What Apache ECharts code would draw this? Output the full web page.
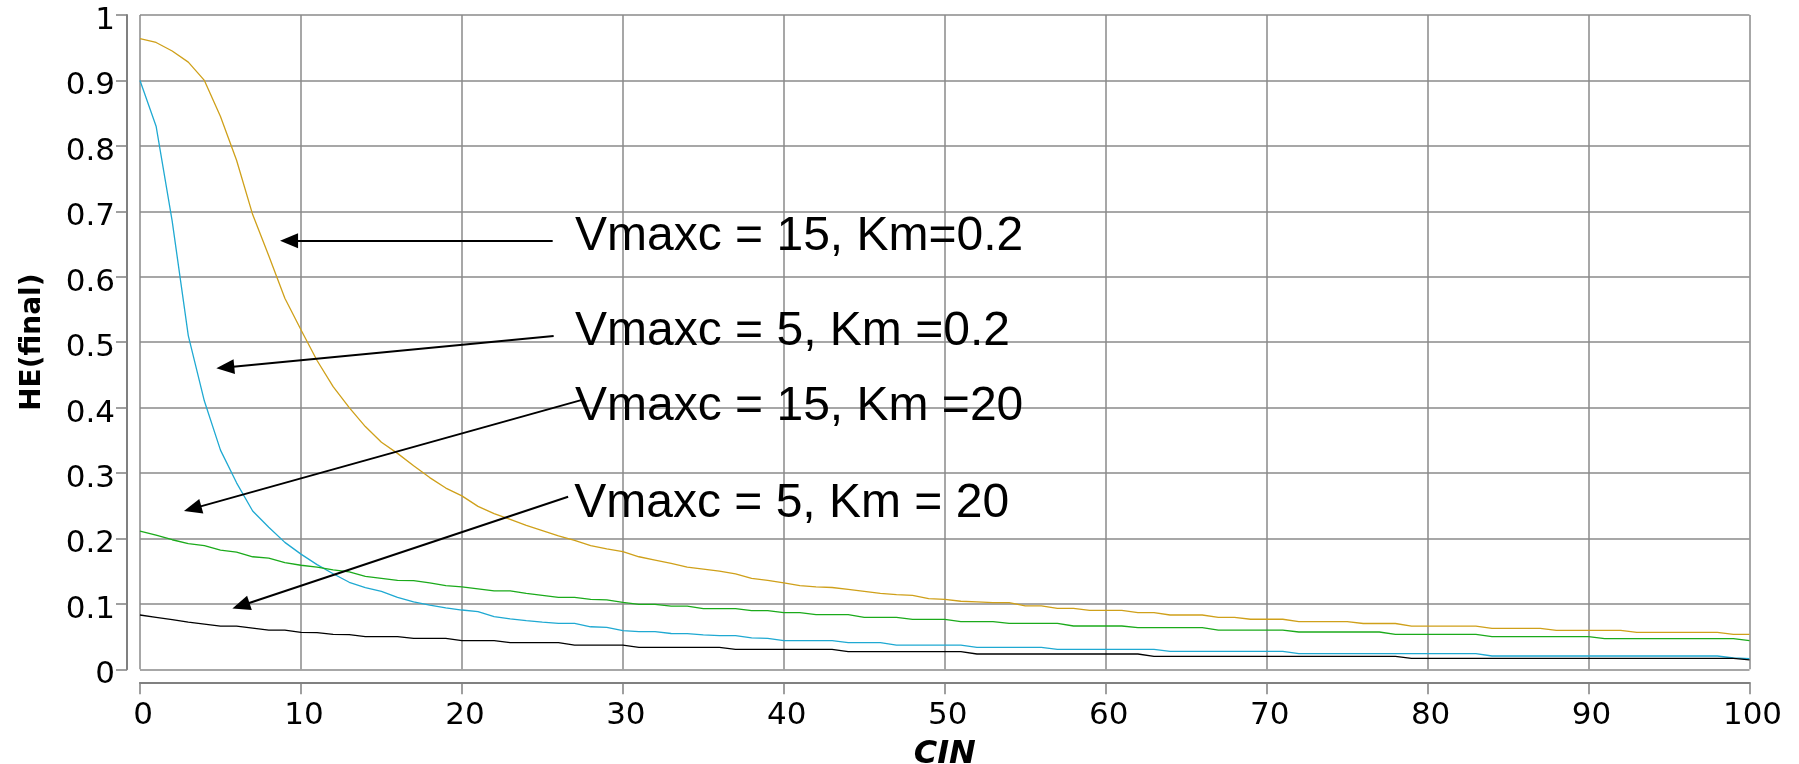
<!DOCTYPE html>
<html><head><meta charset="utf-8">
<script src="https://cdn.jsdelivr.net/npm/echarts@6/dist/echarts.min.js"></script>
<style>html,body{margin:0;padding:0;background:#fff;overflow:hidden}#chart{width:1799px;height:764px}</style>
</head><body><div id="chart"></div>
<script>
// Vmaxc = 15, Km = 0.2
const goldPts = [[0,0.964],[1,0.958],[2,0.945],[3,0.928],[4,0.900],[5,0.845],[6,0.778],[7,0.695],[8,0.632],[9,0.567],
  [10,0.519],[11,0.472],[12,0.432],[13,0.400],[14,0.371],[15,0.347],[16,0.330],[17,0.311],[18,0.293],[19,0.277],
  [20,0.265],[21,0.249],[22,0.238],[23,0.229],[24,0.220],[25,0.212],[26,0.204],[27,0.197],[28,0.189],[29,0.184],
  [30,0.180],[31,0.172],[32,0.167],[33,0.162],[34,0.156],[35,0.153],[36,0.150],[37,0.146],[38,0.139],[39,0.136],
  [40,0.132],[41,0.128],[42,0.126],[43,0.125],[44,0.122],[45,0.119],[46,0.116],[47,0.114],[48,0.113],[49,0.108],
  [50,0.107],[51,0.104],[52,0.103],[53,0.102],[54,0.102],[55,0.097],[56,0.097],[57,0.093],[58,0.093],[59,0.090],
  [61,0.090],[62,0.0865],[63,0.0865],[64,0.083],[66,0.083],[67,0.0795],[68,0.0795],[69,0.0765],[71,0.0765],
  [72,0.073],[75,0.073],[76,0.070],[78,0.070],[79,0.066],[83,0.066],[84,0.0627],[87,0.0627],[88,0.0596],
  [92,0.0596],[93,0.0565],[98,0.0565],[99,0.0535],[100,0.0535]];
// Vmaxc = 5, Km = 0.2
const cyanPts = [[0,0.900],[1,0.830],[2,0.685],[3,0.510],[4,0.410],[5,0.335],[6,0.285],[7,0.242],[8,0.217],[9,0.194],
  [10,0.176],[11,0.160],[12,0.146],[13,0.133],[14,0.125],[15,0.119],[16,0.110],[17,0.103],[18,0.098],[19,0.094],
  [20,0.0906],[21,0.088],[22,0.0805],[23,0.077],[24,0.0743],[25,0.072],[26,0.0703],[27,0.0703],[28,0.065],[29,0.064],
  [30,0.059],[31,0.0575],[32,0.0575],[33,0.0547],[34,0.0545],[35,0.0525],[36,0.0515],[37,0.0515],[38,0.048],[39,0.0474],
  [40,0.0437],[43,0.0437],[44,0.0407],[46,0.0407],[47,0.0371],[51,0.0371],[52,0.0336],[56,0.0336],[57,0.0306],
  [63,0.0306],[64,0.0275],[71,0.0275],[72,0.0239],[83,0.0239],[84,0.0203],[98,0.0203],[99,0.0173],[100,0.0163]];
// Vmaxc = 15, Km = 20
const greenPts = [[0,0.211],[1,0.205],[2,0.198],[3,0.192],[4,0.189],[5,0.182],[6,0.179],[7,0.172],[8,0.170],[9,0.163],
  [10,0.159],[11,0.156],[12,0.152],[13,0.149],[14,0.142],[15,0.139],[16,0.136],[17,0.1355],[18,0.132],[19,0.128],
  [20,0.126],[21,0.123],[22,0.120],[23,0.120],[24,0.116],[25,0.113],[26,0.110],[27,0.110],[28,0.107],[29,0.106],
  [30,0.1024],[31,0.0993],[32,0.0993],[33,0.0967],[34,0.0967],[35,0.0926],[37,0.0926],[38,0.0896],[39,0.0896],
  [40,0.0865],[41,0.0865],[42,0.0835],[44,0.0835],[45,0.0794],[47,0.0794],[48,0.0764],[50,0.0764],[51,0.0728],
  [53,0.0728],[54,0.0703],[57,0.0703],[58,0.0662],[61,0.0662],[62,0.0636],[66,0.0636],[67,0.060],[71,0.060],
  [72,0.057],[77,0.057],[78,0.0535],[83,0.0535],[84,0.0498],[90,0.0498],[91,0.0468],[99,0.0468],[100,0.0437]];
// Vmaxc = 5, Km = 20
const blackPts = [[0,0.083],[1,0.0795],[2,0.076],[3,0.072],[4,0.069],[5,0.066],[6,0.066],[7,0.063],[8,0.060],[9,0.060],
  [10,0.0565],[11,0.056],[12,0.0535],[13,0.053],[14,0.0498],[16,0.0498],[17,0.0474],[19,0.0474],[20,0.0437],
  [22,0.0437],[23,0.0407],[26,0.0407],[27,0.0371],[30,0.0371],[31,0.0336],[36,0.0336],[37,0.0306],[43,0.0306],
  [44,0.0269],[51,0.0269],[52,0.0234],[62,0.0234],[63,0.0199],[78,0.0199],[79,0.0168],[99,0.0168],[100,0.0143]];

// annotations (data coordinates)
const annTexts = ['Vmaxc = 15, Km=0.2', 'Vmaxc = 5, Km =0.2', 'Vmaxc = 15, Km =20', 'Vmaxc = 5, Km = 20'];
const annPos = [[27.0,0.6605],[27.0,0.5152],[27.0,0.4006],[26.95,0.2528]];
const arrowHeads = [[9.26,0.655],[5.30,0.4613],[3.27,0.2456],[6.27,0.0971]];
const arrowTails = [[25.64,0.655],[25.70,0.5094],[27.52,0.4122],[26.60,0.2638]];

const tickFont = 'DejaVu Sans';
const chart = echarts.init(document.getElementById('chart'), null, {renderer: 'canvas'});
function lineSeries(name, pts, color) {
  return {name: name, type: 'line', data: pts, symbol: 'none', showSymbol: false,
    lineStyle: {color: color, width: 1.3}, itemStyle: {color: color}, silent: true};
}
const blackSeries = lineSeries('Vmaxc = 5, Km = 20', blackPts, '#000000');
blackSeries.markLine = {
  silent: true, animation: false,
  symbol: ['triangle', 'none'], symbolSize: [15, 18],
  lineStyle: {color: '#000', width: 2, type: 'solid'},
  label: {show: false},
  emphasis: {disabled: true},
  data: arrowHeads.map((h, i) => [{coord: h}, {coord: arrowTails[i]}])
};
blackSeries.markPoint = {
  silent: true, animation: false,
  symbol: 'circle', symbolSize: 1, itemStyle: {color: 'rgba(0,0,0,0)'},
  label: {show: true, position: 'right', distance: 0, formatter: p => p.name,
    fontFamily: 'Liberation Sans', fontSize: 48, color: '#000'},
  data: annTexts.map((t, i) => ({name: t, coord: annPos[i]}))
};
const option = {
  animation: false,
  backgroundColor: '#ffffff',
  grid: {left: 140, top: 15, right: 49.5, bottom: 94.7, containLabel: false, outerBoundsMode: 'none'},
  xAxis: {
    type: 'value', min: 0, max: 100, interval: 10, offset: 13,
    name: 'CIN', nameLocation: 'middle', nameGap: 56,
    nameTextStyle: {fontFamily: tickFont, fontWeight: 'bold', fontStyle: 'italic', fontSize: 32, color: '#000'},
    axisLine: {show: true, onZero: false, lineStyle: {color: '#808080', width: 2}},
    axisTick: {show: true, length: 12, lineStyle: {color: '#808080', width: 1.5}},
    axisLabel: {margin: 18, fontFamily: tickFont, fontSize: 31, color: '#000', padding: [0, 0, 0, 6]},
    splitLine: {show: true, lineStyle: {color: '#8a8a8a', width: 1.5}}
  },
  yAxis: {
    type: 'value', min: 0, max: 1, interval: 0.1, offset: 13,
    name: 'HE(final)', nameLocation: 'middle', nameRotate: 90, nameGap: 80,
    nameTextStyle: {fontFamily: tickFont, fontWeight: 'bold', fontSize: 28, color: '#000'},
    axisLine: {show: true, onZero: false, lineStyle: {color: '#808080', width: 2}},
    axisTick: {show: true, length: 11, lineStyle: {color: '#808080', width: 1.5}},
    axisLabel: {margin: 12, fontFamily: tickFont, fontSize: 31, color: '#000', verticalAlign: 'top', lineHeight: 12},
    splitLine: {show: true, lineStyle: {color: '#8a8a8a', width: 1.5}}
  },
  series: [
    lineSeries('Vmaxc = 15, Km=0.2', goldPts, '#CFA01A'),
    lineSeries('Vmaxc = 5, Km =0.2', cyanPts, '#1FA9D2'),
    lineSeries('Vmaxc = 15, Km =20', greenPts, '#1BAA1B'),
    blackSeries
  ]
};
chart.setOption(option);
</script></body></html>
